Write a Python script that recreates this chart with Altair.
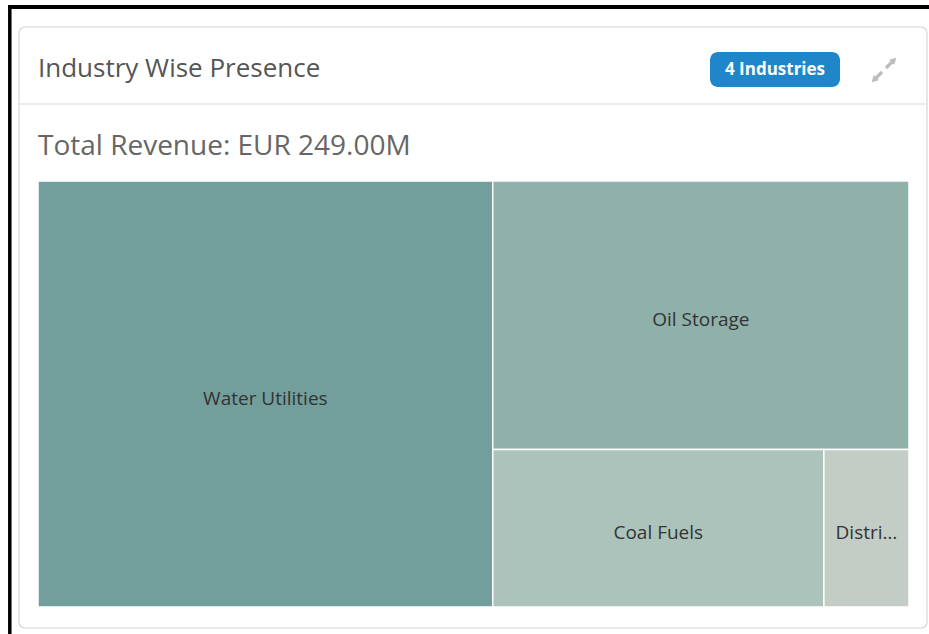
import altair as alt
import pandas as pd

# ---- data ----
industries = ["Water Utilities", "Oil Storage", "Coal Fuels", "Distributors"]
revenue_m = [130, 75, 35, 9]
tile_colors = ["#729e9c", "#8fb1aa", "#acc3bb", "#c4cdc5"]

card_title = "Industry Wise Presence"
badge_text = "4 Industries"
total_label = "Total Revenue: EUR 249.00M"

# ---- treemap layout (squarified) in plot units ----
W, H = 871, 426


def worst(row, side):
    s = sum(row)
    return max(max(side * side * r / (s * s), s * s / (side * side * r)) for r in row)


def squarify(vals, x, y, dx, dy):
    total = sum(vals)
    areas = [v * dx * dy / total for v in vals]
    rects = []
    while areas:
        side = dy if dx >= dy else dx
        row = [areas[0]]
        i = 1
        while i < len(areas) and worst(row + [areas[i]], side) <= worst(row, side):
            row.append(areas[i])
            i += 1
        s = sum(row)
        if dx >= dy:
            w = s / dy
            yy = y
            for a in row:
                h = a / w
                rects.append((x, yy, x + w, yy + h))
                yy += h
            x += w
            dx -= w
        else:
            h = s / dx
            xx = x
            for a in row:
                w = a / h
                rects.append((xx, y, xx + w, y + h))
                xx += w
            y += h
            dy -= h
        areas = areas[i:]
    return rects


rects = squarify(revenue_m, 0, 0, W, H)
df = pd.DataFrame({
    "industry": industries,
    "revenue": revenue_m,
    "x0": [r[0] for r in rects],
    "y0": [r[1] for r in rects],
    "x1": [r[2] for r in rects],
    "y1": [r[3] for r in rects],
})
df["cx"] = (df.x0 + df.x1) / 2
df["cy"] = (df.y0 + df.y1) / 2
df["w"] = df.x1 - df.x0

xs = alt.Scale(domain=[0, W], nice=False, zero=False)
ys = alt.Scale(domain=[0, H], nice=False, zero=False, reverse=True)
FONT = "Open Sans"
ICON = "#bdbdbd"

one = alt.Data(values=[{"a": 1}])

# card frame (relative to plot origin at 38,181)
card = alt.Chart(one).mark_rect(
    fill="white", stroke="#d6d6d6", strokeWidth=1.2, cornerRadius=6
).encode(
    x=alt.value(-19), x2=alt.value(889), y=alt.value(-154), y2=alt.value(447)
)
sep = alt.Chart(one).mark_rule(color="#d9d9d9", strokeWidth=1.2).encode(
    x=alt.value(-19), x2=alt.value(889), y=alt.value(-77)
)
black_top = alt.Chart(one).mark_rule(color="black", strokeWidth=4).encode(
    x=alt.value(-30), x2=alt.value(895), y=alt.value(-174)
)
black_left = alt.Chart(one).mark_rule(color="black", strokeWidth=3.5).encode(
    x=alt.value(-28.2), y=alt.value(-176), y2=alt.value(460)
)
title = alt.Chart(one).mark_text(
    text=card_title, font=FONT, fontSize=26, color="#555555",
    align="left", baseline="alphabetic"
).encode(x=alt.value(0), y=alt.value(-104))
subtitle = alt.Chart(one).mark_text(
    text=total_label, font=FONT, fontSize=28, color="#666666",
    align="left", baseline="alphabetic"
).encode(x=alt.value(0), y=alt.value(-26))
badge = alt.Chart(one).mark_rect(fill="#1f87c9", cornerRadius=8).encode(
    x=alt.value(672), x2=alt.value(802), y=alt.value(-129), y2=alt.value(-94)
)
badge_t = alt.Chart(one).mark_text(
    text=badge_text, font=FONT, fontSize=17, fontWeight="bold", color="white",
    align="center", baseline="middle"
).encode(x=alt.value(737), y=alt.value(-111))

# expand icon: two diagonal arrows
shaft1 = alt.Chart(one).mark_rule(color=ICON, strokeWidth=3.2).encode(
    x=alt.value(837), x2=alt.value(844), y=alt.value(-102), y2=alt.value(-109)
)
shaft2 = alt.Chart(one).mark_rule(color=ICON, strokeWidth=3.2).encode(
    x=alt.value(848), x2=alt.value(855), y=alt.value(-113), y2=alt.value(-120)
)
head_ne = alt.Chart(one).mark_point(
    shape="triangle-up", filled=True, color=ICON, size=55, angle=45, opacity=1
).encode(x=alt.value(856), y=alt.value(-121))
head_sw = alt.Chart(one).mark_point(
    shape="triangle-up", filled=True, color=ICON, size=55, angle=225, opacity=1
).encode(x=alt.value(836), y=alt.value(-101))

tiles = alt.Chart(df).mark_rect(stroke="white", strokeWidth=1.5).encode(
    x=alt.X("x0:Q", scale=xs, axis=None),
    x2="x1:Q",
    y=alt.Y("y0:Q", scale=ys, axis=None),
    y2="y1:Q",
    color=alt.Color("industry:N", scale=alt.Scale(domain=industries, range=tile_colors), legend=None),
    tooltip=["industry:N", "revenue:Q"],
)
labels = alt.Chart(df).mark_text(
    font=FONT, fontSize=19, color="#333333", align="center", baseline="middle",
    dy=5, limit={"expr": "datum.w - 14"}
).encode(
    x=alt.X("cx:Q", scale=xs, axis=None),
    y=alt.Y("cy:Q", scale=ys, axis=None),
    text="industry:N",
)

chart = alt.layer(
    card, sep, black_top, black_left, title, subtitle, badge, badge_t,
    shaft1, shaft2, head_ne, head_sw, tiles, labels
).properties(
    width=W, height=H,
    padding={"left": 38, "top": 181, "right": 20, "bottom": 27},
    autosize=alt.AutoSizeParams(type="none"),
    background="white",
).configure_view(stroke=None)

chart.save("out.html", embed_options={"renderer": "svg", "actions": False})
